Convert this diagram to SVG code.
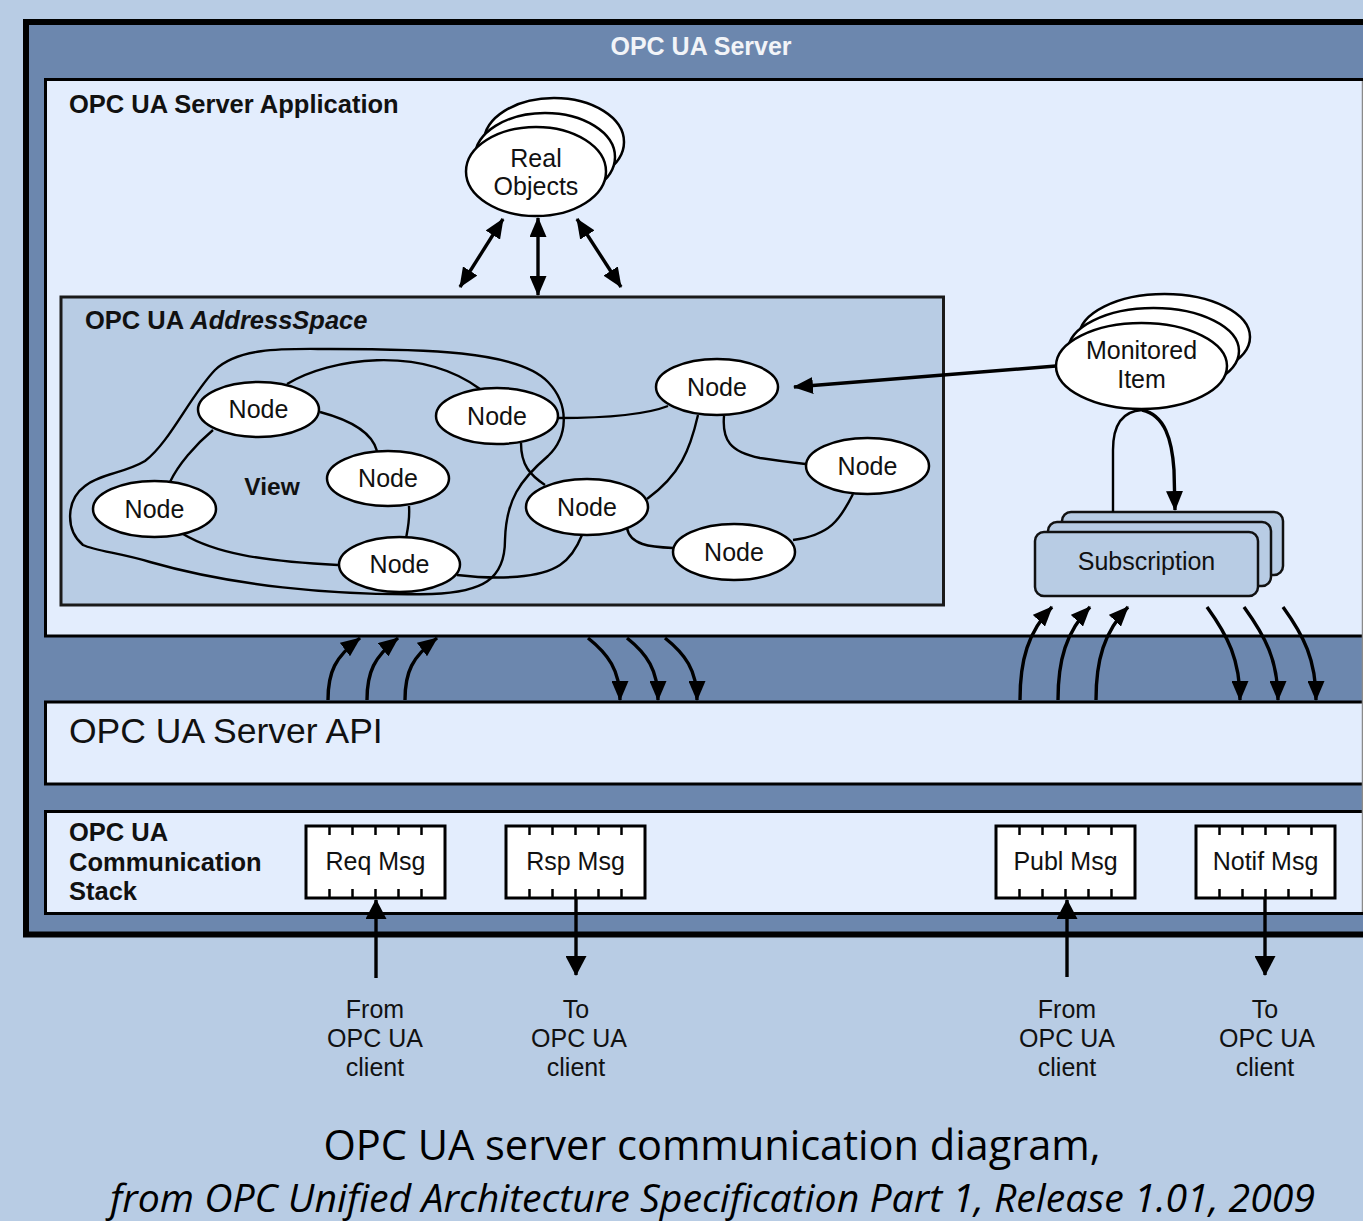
<svg xmlns="http://www.w3.org/2000/svg" xmlns:xlink="http://www.w3.org/1999/xlink" width="1363" height="1221" viewBox="0 0 1363 1221">
  <style>
    .band { fill: #6c87ae; }
    .panel { fill: #e3edfd; stroke: #000; stroke-width: 3; }
    .space { fill: #b8cce4; stroke: #1a1a1a; stroke-width: 3; }
    .node { fill: #fff; stroke: #000; stroke-width: 2.5; }
    .sub { fill: #b8cce4; stroke: #111; stroke-width: 2.5; }
    .msg { fill: #fff; stroke: #000; stroke-width: 3; }
    .edge { fill: none; stroke: #000; stroke-width: 2.4; }
    .arrow { fill: none; stroke: #000; stroke-width: 3.4; }
    .txt { font-family: "Liberation Sans", Arial, sans-serif; fill: #111; }
    .lbl { font-size: 25px; text-anchor: middle; }
    .bold { font-weight: bold; font-size: 25.5px; }
    .cap { font-family: "Open Sans", "Noto Sans", sans-serif; fill: #000; text-anchor: middle; }
  </style>
  <defs>
    <marker id="head" viewBox="0 0 20 17" refX="19" refY="8.5" markerWidth="20" markerHeight="17" markerUnits="userSpaceOnUse" orient="auto-start-reverse">
      <path d="M0,0 L20,8.5 L0,17 Z" fill="#000"/>
    </marker>
    <marker id="bighead" viewBox="0 0 20 21" refX="19" refY="10.5" markerWidth="20" markerHeight="21" markerUnits="userSpaceOnUse" orient="auto-start-reverse">
      <path d="M0,0 L20,10.5 L0,21 Z" fill="#000"/>
    </marker>
    <path id="ticks" d="M23.5,0 v9 M46.5,0 v9 M69.5,0 v9 M92.5,0 v9 M115.5,0 v9 M23.5,63 v9 M46.5,63 v9 M69.5,63 v9 M92.5,63 v9 M115.5,63 v9" stroke="#000" stroke-width="2.5" fill="none"/>
  </defs>

  <!-- page background -->
  <rect x="0" y="0" width="1363" height="1221" fill="#b8cce4"/>

  <!-- server frame -->
  <g id="server">
    <rect class="band" x="26" y="22" width="1360" height="912.5" stroke="#000" stroke-width="6"/>
    <text class="txt" x="701" y="55" text-anchor="middle" font-size="25" font-weight="bold" style="fill:#f2f4f8">OPC UA Server</text>
  </g>

  <!-- server application panel -->
  <g id="application">
    <rect class="panel" x="45.5" y="79.5" width="1340" height="556.5"/>
    <text class="txt bold" x="69" y="113">OPC UA Server Application</text>
  </g>

  <!-- server API panel -->
  <g id="server-api">
    <rect class="panel" x="45.5" y="702" width="1340" height="82"/>
    <text class="txt" x="69" y="743" font-size="35.5">OPC UA Server API</text>
  </g>

  <!-- communication stack panel -->
  <g id="comm-stack">
    <rect class="panel" x="45.5" y="811.5" width="1340" height="102"/>
    <text class="txt bold" x="69" y="841">OPC UA</text>
    <text class="txt bold" x="69" y="871">Communication</text>
    <text class="txt bold" x="69" y="900">Stack</text>
  </g>

  <!-- right clipping edge -->
  <line x1="1362.5" y1="81" x2="1362.5" y2="912" stroke="#8a8a8a" stroke-width="1.5"/>

  <!-- address space -->
  <g id="address-space">
    <rect class="space" x="61" y="297" width="882.5" height="308"/>
    <text class="txt" x="85" y="329" font-size="25.5" font-weight="bold">OPC UA <tspan font-style="italic">AddressSpace</tspan></text>
  </g>

  <!-- references between nodes and the view outline -->
  <g id="references">
    <path class="edge" d="M83,545 C65,530 66,500 85,486 C100,474 125,473 145,461 C170,442 190,396 215,370 C240,346 290,349 330,349 C420,349 518,350 548,382 C570,405 568,437 548,456 C520,480 506,500 505,540 C505,580 482,592 432,594 C330,596 230,585 150,562 C120,553 96,551 83,545 Z"/>
    <path class="edge" d="M287,384 C330,358 420,345 480,389"/>
    <path class="edge" d="M320,412 C350,420 372,432 377,451"/>
    <path class="edge" d="M213,430 C195,445 178,465 170,482"/>
    <path class="edge" d="M409,506 C410,520 408,528 406,538"/>
    <path class="edge" d="M183,534 C215,553 260,561 338,565"/>
    <path class="edge" d="M457,575 C500,580 540,578 560,565 C572,557 578,545 582,535"/>
    <path class="edge" d="M521,443 C521,465 530,475 545,485"/>
    <path class="edge" d="M558,418 C600,418 645,415 668,406"/>
    <path class="edge" d="M698,415 C690,450 680,475 647,499"/>
    <path class="edge" d="M724,416 C722,440 730,452 760,458 C785,462 798,463 806,464"/>
    <path class="edge" d="M627,528 C630,545 650,547 673,548"/>
    <path class="edge" d="M793,540 C830,535 840,520 853,494"/>
  </g>

  <!-- address space nodes -->
  <g id="node-a"><ellipse class="node" cx="258.5" cy="409.5" rx="60.5" ry="27.5"/><text class="txt lbl" x="258.5" y="418">Node</text></g>
  <g id="node-b"><ellipse class="node" cx="154.5" cy="509" rx="61.5" ry="28"/><text class="txt lbl" x="154.5" y="517.5">Node</text></g>
  <g id="node-c"><ellipse class="node" cx="388" cy="478.5" rx="61" ry="27.5"/><text class="txt lbl" x="388" y="487">Node</text></g>
  <g id="node-d"><ellipse class="node" cx="399.5" cy="564.5" rx="60.5" ry="27.5"/><text class="txt lbl" x="399.5" y="573">Node</text></g>
  <g id="node-e"><ellipse class="node" cx="497" cy="416" rx="61" ry="28"/><text class="txt lbl" x="497" y="424.5">Node</text></g>
  <g id="node-f"><ellipse class="node" cx="717" cy="387" rx="61" ry="28"/><text class="txt lbl" x="717" y="395.5">Node</text></g>
  <g id="node-g"><ellipse class="node" cx="867.5" cy="466" rx="61.5" ry="28"/><text class="txt lbl" x="867.5" y="474.5">Node</text></g>
  <g id="node-h"><ellipse class="node" cx="587" cy="507" rx="61" ry="28"/><text class="txt lbl" x="587" y="515.5">Node</text></g>
  <g id="node-i"><ellipse class="node" cx="734" cy="552" rx="61" ry="28"/><text class="txt lbl" x="734" y="560.5">Node</text></g>
  <g id="view-label"><text class="txt" x="272" y="495" font-size="24.5" font-weight="bold" text-anchor="middle">View</text></g>

  <!-- real objects -->
  <g id="real-objects">
    <ellipse class="node" cx="554" cy="142" rx="70" ry="44"/>
    <ellipse class="node" cx="545" cy="157" rx="70" ry="44"/>
    <ellipse class="node" cx="536" cy="171.5" rx="70" ry="44.5"/>
    <text class="txt lbl" x="536" y="167">Real</text>
    <text class="txt lbl" x="536" y="195">Objects</text>
  </g>

  <!-- monitored item -->
  <g id="monitored-item">
    <ellipse class="node" cx="1164.5" cy="337" rx="85.5" ry="43"/>
    <ellipse class="node" cx="1153.5" cy="351" rx="85.5" ry="43"/>
    <ellipse class="node" cx="1141.5" cy="366" rx="85.5" ry="43"/>
    <text class="txt lbl" x="1141.5" y="359">Monitored</text>
    <text class="txt lbl" x="1141.5" y="388">Item</text>
  </g>

  <!-- subscription -->
  <g id="subscription">
    <rect class="sub" x="1062" y="512" width="221" height="63" rx="9"/>
    <rect class="sub" x="1048" y="522" width="223" height="64" rx="9"/>
    <rect class="sub" x="1035" y="532" width="223" height="64" rx="9"/>
    <text class="txt lbl" x="1146.5" y="570">Subscription</text>
  </g>

  <!-- messages -->
  <g id="req-msg">
    <rect class="msg" x="306" y="826" width="139" height="72"/>
    <use xlink:href="#ticks" href="#ticks" x="306" y="826"/>
    <text class="txt lbl" x="375.5" y="870">Req Msg</text>
  </g>
  <g id="rsp-msg">
    <rect class="msg" x="506" y="826" width="139" height="72"/>
    <use xlink:href="#ticks" href="#ticks" x="506" y="826"/>
    <text class="txt lbl" x="575.5" y="870">Rsp Msg</text>
  </g>
  <g id="publ-msg">
    <rect class="msg" x="996" y="826" width="139" height="72"/>
    <use xlink:href="#ticks" href="#ticks" x="996" y="826"/>
    <text class="txt lbl" x="1065.5" y="870">Publ Msg</text>
  </g>
  <g id="notif-msg">
    <rect class="msg" x="1196" y="826" width="139" height="72"/>
    <use xlink:href="#ticks" href="#ticks" x="1196" y="826"/>
    <text class="txt lbl" x="1265.5" y="870">Notif Msg</text>
  </g>

  <!-- client endpoints -->
  <g id="from-client-1">
    <text class="txt lbl" x="375" y="1018">From</text>
    <text class="txt lbl" x="375" y="1047">OPC UA</text>
    <text class="txt lbl" x="375" y="1076">client</text>
  </g>
  <g id="to-client-1">
    <text class="txt lbl" x="576" y="1018">To</text>
    <text class="txt lbl" x="579" y="1047">OPC UA</text>
    <text class="txt lbl" x="576" y="1076">client</text>
  </g>
  <g id="from-client-2">
    <text class="txt lbl" x="1067" y="1018">From</text>
    <text class="txt lbl" x="1067" y="1047">OPC UA</text>
    <text class="txt lbl" x="1067" y="1076">client</text>
  </g>
  <g id="to-client-2">
    <text class="txt lbl" x="1265" y="1018">To</text>
    <text class="txt lbl" x="1267" y="1047">OPC UA</text>
    <text class="txt lbl" x="1265" y="1076">client</text>
  </g>

  <!-- connectors -->
  <g id="connectors">
    <!-- real objects to address space -->
    <path class="arrow" d="M503,219 L460,287" marker-start="url(#head)" marker-end="url(#head)"/>
    <path class="arrow" d="M538,218 L538,295" marker-start="url(#head)" marker-end="url(#head)"/>
    <path class="arrow" d="M577,219 L621,287" marker-start="url(#head)" marker-end="url(#head)"/>

    <!-- monitored item samples a node -->
    <path class="arrow" d="M1056,366 L794,387" marker-end="url(#head)"/>

    <!-- monitored item / subscription loop -->
    <path class="edge" d="M1113,512 L1113,450 C1113,422 1125,411 1142,410"/>
    <path class="arrow" d="M1142,410 C1165,415 1172,440 1174,470 L1175,510" marker-end="url(#head)"/>

    <!-- API calls into the address space -->
    <path class="arrow" d="M328,700 C328,672 335,657 360,638" marker-end="url(#head)"/>
    <path class="arrow" d="M367,700 C367,672 374,657 398,638" marker-end="url(#head)"/>
    <path class="arrow" d="M405,700 C405,672 412,657 437,638" marker-end="url(#head)"/>

    <!-- address space responses to the API -->
    <path class="arrow" d="M588,638 C608,654 620,670 620,700" marker-end="url(#head)"/>
    <path class="arrow" d="M627,638 C647,654 658,670 658,700" marker-end="url(#head)"/>
    <path class="arrow" d="M665,638 C685,654 697,670 697,700" marker-end="url(#head)"/>

    <!-- publish requests into the subscription -->
    <path class="arrow" d="M1020,700 C1020,660 1028,632 1052,607" marker-end="url(#head)"/>
    <path class="arrow" d="M1058,700 C1058,660 1066,632 1090,607" marker-end="url(#head)"/>
    <path class="arrow" d="M1096,700 C1096,660 1104,632 1128,607" marker-end="url(#head)"/>

    <!-- notifications from the subscription -->
    <path class="arrow" d="M1207,607 C1228,636 1240,660 1240,700" marker-end="url(#head)"/>
    <path class="arrow" d="M1244,607 C1265,636 1278,660 1278,700" marker-end="url(#head)"/>
    <path class="arrow" d="M1283,607 C1304,636 1316,660 1316,700" marker-end="url(#head)"/>

    <!-- messages to and from clients -->
    <path class="arrow" d="M376,978 L376,900" stroke-width="4" marker-end="url(#bighead)"/>
    <path class="arrow" d="M576,898 L576,975" stroke-width="4" marker-end="url(#bighead)"/>
    <path class="arrow" d="M1067,977 L1067,900" stroke-width="4" marker-end="url(#bighead)"/>
    <path class="arrow" d="M1265,898 L1265,975" stroke-width="4" marker-end="url(#bighead)"/>
  </g>

  <!-- caption -->
  <g id="caption">
    <text class="cap" x="712" y="1160" font-size="42" textLength="777" lengthAdjust="spacingAndGlyphs">OPC UA server communication diagram,</text>
    <text class="cap" x="712.5" y="1212" font-size="38" font-style="italic" textLength="1205" lengthAdjust="spacingAndGlyphs">from OPC Unified Architecture Specification Part 1, Release 1.01, 2009</text>
  </g>
</svg>
